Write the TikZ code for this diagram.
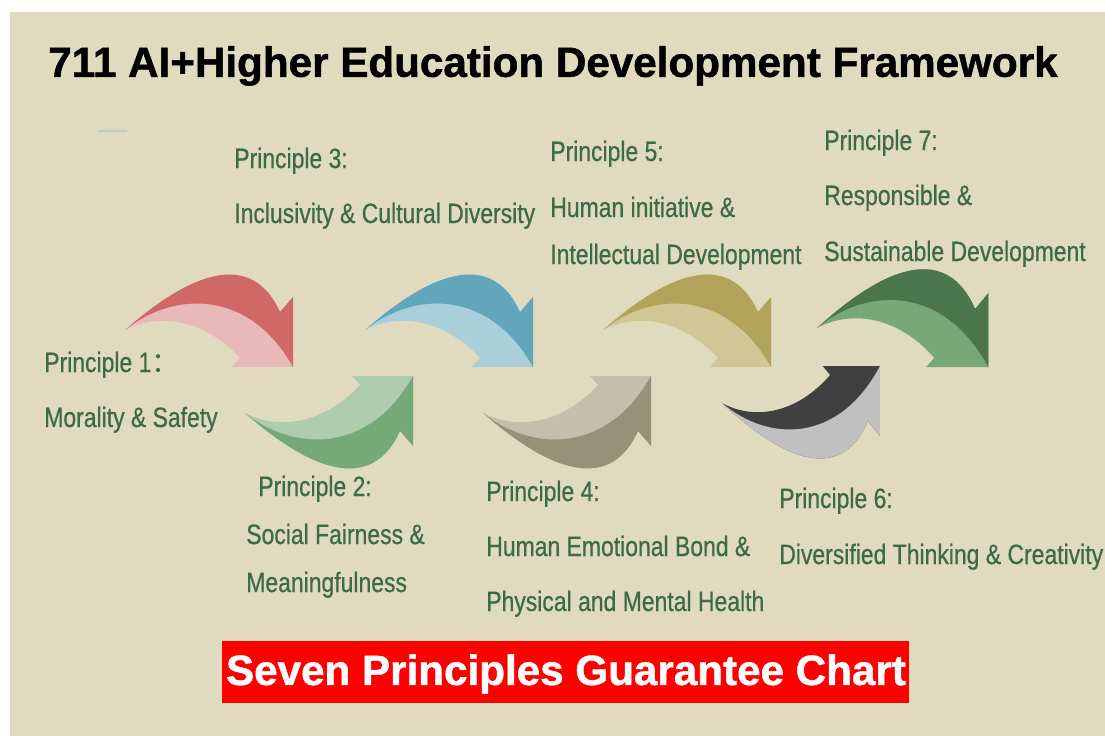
\documentclass[tikz,border=0pt]{standalone}
\usepackage{fontspec}
\setmainfont{Liberation Sans}
\newfontfamily\narrowfont[FakeStretch=0.82,FakeBold=0.6]{Liberation Sans}
\newfontfamily\heavyfont[FakeBold=1.2]{Liberation Sans Bold}
\newfontfamily\cjkfont{Noto Sans CJK SC}
\usepackage{xcolor}
\definecolor{Paper}{HTML}{E0DBBF}
\definecolor{Leaf}{HTML}{3E6B47}
\definecolor{Banner}{HTML}{FF0000}
\definecolor{Dash}{HTML}{C2C9C6}
\definecolor{RoseDark}{HTML}{D06868}
\definecolor{RoseLight}{HTML}{E8B9B9}
\definecolor{SageDark}{HTML}{75A978}
\definecolor{SageLight}{HTML}{AECDAF}
\definecolor{SkyDark}{HTML}{62A6BC}
\definecolor{SkyLight}{HTML}{A9CFDB}
\definecolor{StoneDark}{HTML}{979177}
\definecolor{StoneLight}{HTML}{C2BFAB}
\definecolor{OliveDark}{HTML}{B2A35A}
\definecolor{OliveLight}{HTML}{D0C795}
\definecolor{Charcoal}{HTML}{404040}
\definecolor{Silver}{HTML}{C0C0C0}
\definecolor{PineDark}{HTML}{4B764C}
\definecolor{PineLight}{HTML}{77A878}
\usetikzlibrary{positioning}

\begin{document}
\begin{tikzpicture}[
  x=0.025cm,y=-0.025cm,
  ptext/.style={anchor=base west,inner sep=0pt,text=Leaf,font=\narrowfont\fontsize{19.9}{22}\selectfont},
  headline/.style={inner sep=0pt,font=\heavyfont\fontsize{30}{34}\selectfont},
  % two-tone curved arrow, tail at the origin, head to the right
  pics/bend/.style 2 args={code={
    \fill[#2] (0,0) .. controls (40,-35) and (120,-95) .. (155,-18) -- (168,-33) -- (168,37)
      -- (107,37) -- (115,28) .. controls (80,-10) and (35,-18) .. (0,0) -- cycle;
    \fill[#1] (0,0) .. controls (40,-35) and (120,-95) .. (155,-18) -- (168,-33) -- (168,37)
      .. controls (125,-40) and (50,-40) .. (0,0) -- cycle;
  }}
]
  \useasboundingbox (0,0) rectangle (1105,736);
  \fill[Paper] (10,12) rectangle (1105,736);

  \node[headline] (title) at (553,66) {711 AI+Higher Education Development Framework};
  \draw[Dash,line width=1.5pt] (98,131) -- (127,131);

  % upper arrows bend down, lower ones bend up
  \pic (arr1) at (125,330) {bend={RoseDark}{RoseLight}};
  \pic (arr3) at (365,330) {bend={SkyDark}{SkyLight}};
  \pic (arr5) at (603,330) {bend={OliveDark}{OliveLight}};
  \pic[xscale=1.02,yscale=1.06] (arr7) at (817,328) {bend={PineDark}{PineLight}};
  \pic[yscale=-1] (arr2) at (245,413) {bend={SageDark}{SageLight}};
  \pic[yscale=-1] (arr4) at (483,413) {bend={StoneDark}{StoneLight}};
  \pic[yscale=-1,xscale=0.94] (arr6) at (722,403) {bend={Silver}{Charcoal}};

  \node[ptext] (p1head) at (44,372) {Principle 1{\cjkfont ：}};
  \node[ptext] (p1text) at (44,427) {Morality \& Safety};

  \node[ptext] (p2head) at (258,496) {Principle 2:};
  \node[ptext] (p2text) at (246,544) {Social Fairness \&};
  \node[ptext] (p2more) at (246,592) {Meaningfulness};

  \node[ptext] (p3head) at (234,168) {Principle 3:};
  \node[ptext] (p3text) at (234,223) {Inclusivity \& Cultural Diversity};

  \node[ptext] (p4head) at (486,501) {Principle 4:};
  \node[ptext] (p4text) at (486,556) {Human Emotional Bond \&};
  \node[ptext] (p4more) at (486,611) {Physical and Mental Health};

  \node[ptext] (p5head) at (550,161) {Principle 5:};
  \node[ptext] (p5text) at (550,217) {Human initiative \&};
  \node[ptext] (p5more) at (550,264) {Intellectual Development};

  \node[ptext] (p6head) at (779,508) {Principle 6:};
  \node[ptext] (p6text) at (779,564) {Diversified Thinking \& Creativity};

  \node[ptext] (p7head) at (824,150) {Principle 7:};
  \node[ptext] (p7text) at (824,205) {Responsible \&};
  \node[ptext] (p7more) at (824,261) {Sustainable Development};

  \fill[Banner] (222,641) rectangle (909,703);
  \node[headline,text=white] (chart) at (566,674) {Seven Principles Guarantee Chart};
\end{tikzpicture}
\end{document}
